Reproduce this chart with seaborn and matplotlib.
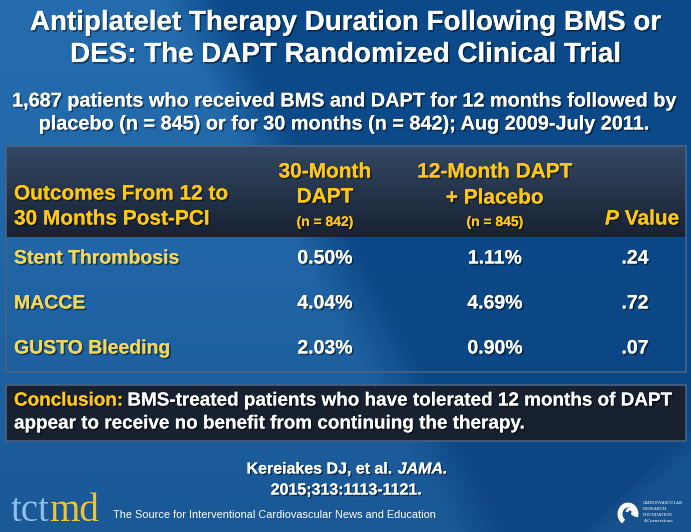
import numpy as np
import pandas as pd
import matplotlib
matplotlib.use("Agg")
import matplotlib.pyplot as plt
import matplotlib.patheffects as pe
from matplotlib.patches import Rectangle, Arc
import seaborn as sns

# ---------------- data ----------------
title_lines = ["Antiplatelet Therapy Duration Following BMS or",
               "DES: The DAPT Randomized Clinical Trial"]
subtitle_lines = ["1,687 patients who received BMS and DAPT for 12 months followed by",
                  "placebo (n = 845) or for 30 months (n = 842); Aug 2009-July 2011."]
outcomes = ["Stent Thrombosis", "MACCE", "GUSTO Bleeding"]
dapt_30 = [0.50, 4.04, 2.03]
dapt_12_placebo = [1.11, 4.69, 0.90]
p_values = [0.24, 0.72, 0.07]
n_30 = 842
n_12 = 845
conclusion_head = "Conclusion:"
conclusion_lines = ["BMS-treated patients who have tolerated 12 months of DAPT",
                    "appear to receive no benefit from continuing the therapy."]
citation = ["Kereiakes DJ, et al. ", "JAMA.", "2015;313:1113-1121."]
footer = "The Source for Interventional Cardiovascular News and Education"

df = pd.DataFrame({"outcome": outcomes, "d30": dapt_30, "d12": dapt_12_placebo, "p": p_values})

# ---------------- style ----------------
sns.set_theme(style="white")
plt.rcParams["font.family"] = ["Liberation Sans", "DejaVu Sans"]

W, H = 691, 532
fig = plt.figure(figsize=(W / 100, H / 100), dpi=100)
ax = fig.add_axes([0, 0, 1, 1])
ax.set_xlim(0, W)
ax.set_ylim(H, 0)
ax.axis("off")

# background gradient
yy, xx = np.mgrid[0:H, 0:W]
c_light = np.array([0x24, 0x6c, 0xae]) / 255
c_dark = np.array([0x0c, 0x4a, 0x8a]) / 255
c_bot = np.array([0x0e, 0x3f, 0x78]) / 255
t = np.clip((xx - (190 + 0.55 * yy)) / 60 + 0.5, 0, 1)[..., None]
img = c_light * (1 - t) + c_dark * t
v = np.clip(yy / H, 0, 1)[..., None] ** 1.5
img = img * (1 - 0.45 * v) + c_bot * 0.45 * v
t2 = np.clip(((xx - 590) + 1.1 * (yy - 532)) / 30 + 0.5, 0, 1)[..., None]
img = img * (1 - 0.35 * t2) + np.array([0x2a, 0x6a, 0xa8]) / 255 * 0.35 * t2
ax.imshow(img, extent=[0, W, H, 0], aspect="auto", zorder=0)

shadow = [pe.withSimplePatchShadow(offset=(1.2, -1.2), shadow_rgbFace="black", alpha=0.45), pe.Normal()]

def txt(x, y, s, size, color="white", ha="center", weight="bold", style="normal", fx=True, **kw):
    t = ax.text(x, y, s, ha=ha, va="center", fontsize=size, color=color, fontweight=weight,
                fontstyle=style, zorder=5, **kw)
    if fx:
        t.set_path_effects(shadow)
    return t

def width_of(t):
    fig.canvas.draw()
    b = t.get_window_extent().transformed(ax.transData.inverted())
    return b.x1 - b.x0, b

# title & subtitle
txt(345, 23, title_lines[0], 20)
txt(345, 55, title_lines[1], 20)
txt(345, 101, subtitle_lines[0], 14.3)
txt(345, 124, subtitle_lines[1], 14.3)

# ---------------- table ----------------
tx0, tx1, ty0, ty1, thead = 6, 686, 146, 372, 237
hdr = np.linspace(0, 1, 60)[:, None]
top_c = np.array([0x33, 0x48, 0x64]) / 255
bot_c = np.array([0x18, 0x22, 0x33]) / 255
hdr_img = top_c * (1 - hdr[..., None]) + bot_c * hdr[..., None]
hdr_img = np.repeat(hdr_img, 2, axis=1)
ax.imshow(hdr_img, extent=[tx0, tx1, thead, ty0], aspect="auto", zorder=1)

# body cells through seaborn heatmap
body_ax = fig.add_axes([tx0 / W, 1 - ty1 / H, (tx1 - tx0) / W, (ty1 - thead) / H])
sns.heatmap(np.zeros((len(outcomes), 1)), ax=body_ax, cbar=False,
            cmap=sns.color_palette(["#161f2d"], as_cmap=True), vmin=0, vmax=1,
            xticklabels=False, yticklabels=False, linewidths=0)
body_ax.axis("off")
ax.set_zorder(2)
ax.patch.set_visible(False)
ax.add_patch(Rectangle((tx0, ty0), tx1 - tx0, ty1 - ty0, fill=False, ec="#4a6282", lw=1.2, zorder=3))

yellow = "#FFC715"
row_yellow = "#F3D75A"
col_x = [325, 495, 635]

txt(14, 194, "Outcomes From 12 to", 15, color=yellow, ha="left")
txt(14, 219, "30 Months Post-PCI", 15, color=yellow, ha="left")
txt(col_x[0], 172, "30-Month", 15, color=yellow)
txt(col_x[0], 197, "DAPT", 15, color=yellow)
txt(col_x[0], 222, f"(n = {n_30})", 10, color=yellow)
txt(col_x[1], 172, "12-Month DAPT", 15, color=yellow)
txt(col_x[1], 198, "+ Placebo", 15, color=yellow)
txt(col_x[1], 222, f"(n = {n_12})", 10, color=yellow)
txt(col_x[2] - 30, 219, "P", 15, color=yellow, ha="left", style="italic")
txt(col_x[2] - 16, 219, " Value", 15, color=yellow, ha="left")

row_y = [259, 304, 349]
for i, r in df.iterrows():
    y = row_y[i]
    txt(14, y, r["outcome"], 14, color=row_yellow, ha="left")
    txt(col_x[0], y, f"{r['d30']:.2f}%", 14)
    txt(col_x[1], y, f"{r['d12']:.2f}%", 14)
    txt(col_x[2], y, f"{r['p']:.2f}"[1:], 14)

# ---------------- conclusion ----------------
cx0, cx1, cy0, cy1 = 6, 686, 385, 441
ax.add_patch(Rectangle((cx0, cy0), cx1 - cx0, cy1 - cy0, fc="#172130", ec="#4a6282", lw=1.2, zorder=3))
t1 = txt(14, 401, conclusion_head, 13.6, color=yellow, ha="left")
_, bb = width_of(t1)
txt(bb.x1 + 4, 401, conclusion_lines[0], 13.6, ha="left")
txt(14, 424, conclusion_lines[1], 13.6, ha="left")

# ---------------- citation ----------------
c1 = txt(0, 469, citation[0], 11.5, ha="left")
c2 = txt(0, 469, citation[1], 11.5, ha="left", style="italic")
w1, _ = width_of(c1)
w2, _ = width_of(c2)
start = 347 - (w1 + w2) / 2
c1.set_x(start)
c2.set_x(start + w1)
txt(347, 490, citation[2], 11.5)

# ---------------- footer logos ----------------
l1 = ax.text(11, 521, "tct", fontsize=28, color="#8fc0ec", family="Liberation Serif", fontweight="normal",
             ha="left", va="baseline", zorder=5)
wl, _ = width_of(l1)
ax.text(11 + wl - 1, 521, "md", fontsize=28, color="#f2c530", family="Liberation Serif", fontweight="normal",
        ha="left", va="baseline", zorder=5)
ax.text(113, 515, footer, fontsize=7.9, color="white", ha="left", va="center", zorder=5)

ax.add_patch(Arc((628, 514), 16, 18, theta1=120, theta2=20, lw=3.5, color="white", zorder=5))
ax.add_patch(Arc((630, 512), 6, 6, theta1=180, theta2=60, lw=2, color="white", zorder=5))
for k, s in enumerate(["CARDIOVASCULAR", "RESEARCH", "FOUNDATION", "A Cornerstone"]):
    ax.text(643, 503 + k * 6, s, fontsize=2.9, color="white", family="DejaVu Serif", ha="left",
            va="center", zorder=5)

fig.savefig("out.png", dpi=100)
